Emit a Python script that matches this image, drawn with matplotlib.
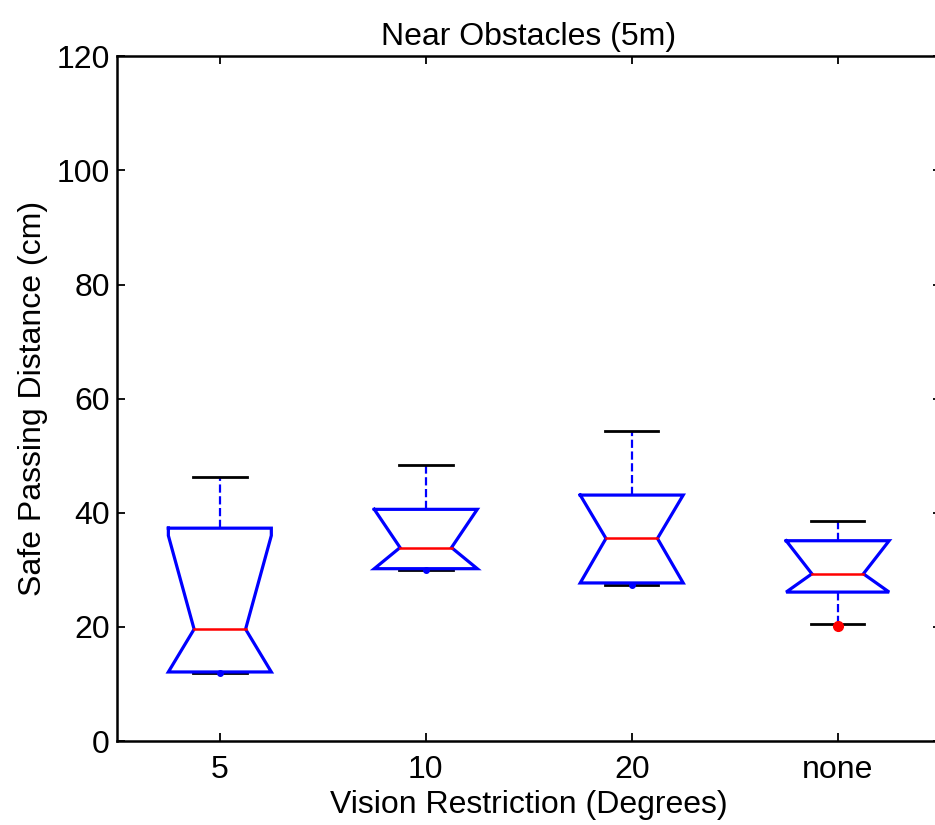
import matplotlib
matplotlib.use('Agg')
import matplotlib.pyplot as plt

plt.rcParams['font.family'] = ['Liberation Sans', 'DejaVu Sans']

# data (cm)
groups = ['5', '10', '20', 'none']
q1 = [12.1, 30.2, 27.7, 26.1]
medians = [19.6, 33.9, 35.5, 29.3]
q3 = [37.3, 40.6, 43.1, 35.1]
whisker_lo = [11.9, 29.9, 27.3, 20.5]
whisker_hi = [46.3, 48.4, 54.3, 38.5]
notch_lo = [3.2, 27.1, 25.5, 23.4]
notch_hi = [36.0, 40.7, 45.5, 35.2]
outliers = [[], [], [], [20.2]]

BOX_HW = 0.25      # half width of a box
NOTCH_HW = 0.125   # half width at the median
CAP_HW = 0.13
FS = 23

fig = plt.figure(figsize=(9.35, 8.25), dpi=100)
ax = fig.add_axes([0.125, 0.1018, 0.881, 0.830])

for i in range(len(groups)):
    x = i + 1
    nl = max(notch_lo[i], q1[i])
    nu = min(notch_hi[i], q3[i])

    # whiskers (dashed) and caps
    ax.plot([x, x], [q3[i], whisker_hi[i]], color='blue', linestyle='--', lw=1.6, zorder=2)
    ax.plot([x, x], [whisker_lo[i], q1[i]], color='blue', linestyle='--', lw=1.6, zorder=2)
    ax.plot([x - CAP_HW, x + CAP_HW], [whisker_hi[i]] * 2, color='black', lw=2.0, zorder=2)
    ax.plot([x - CAP_HW, x + CAP_HW], [whisker_lo[i]] * 2, color='black', lw=2.0, zorder=2)
    if whisker_lo[i] >= q1[i] - 0.5:
        # whisker too short to show its dashes: just a blue dot
        ax.plot([x], [whisker_lo[i]], 'o', color='blue', ms=4, zorder=3)

    # notched box outline
    xs = [x - BOX_HW, x + BOX_HW, x + BOX_HW, x + NOTCH_HW, x + BOX_HW, x + BOX_HW,
          x - BOX_HW, x - BOX_HW, x - NOTCH_HW, x - BOX_HW, x - BOX_HW]
    ys = [q3[i], q3[i], nu, medians[i], nl, q1[i],
          q1[i], nl, medians[i], nu, q3[i]]
    ax.plot(xs, ys, color='blue', lw=2.3, zorder=4, solid_joinstyle='miter')

    # median
    ax.plot([x - NOTCH_HW, x + NOTCH_HW], [medians[i]] * 2, color='red', lw=1.8, zorder=5)

    # outliers
    for v in outliers[i]:
        ax.plot([x], [v], 'o', color='red', ms=7, zorder=6)

ax.set_xlim(0.5, 4.5)
ax.set_ylim(0, 120)
ax.set_xticks(range(1, len(groups) + 1))
ax.set_xticklabels(groups)
ax.set_yticks(range(0, 121, 20))

ax.tick_params(direction='in', length=6, width=1.3, labelsize=FS, colors='black')
ax.tick_params(axis='x', pad=10, top=True)
ax.tick_params(axis='y', pad=5, right=True)
for name in ['left', 'bottom', 'top']:
    ax.spines[name].set_linewidth(1.8)
ax.spines['right'].set_visible(False)

ax.set_title('Near Obstacles (5m)', fontsize=FS, pad=8)
ax.set_xlabel('Vision Restriction (Degrees)', fontsize=FS, labelpad=4)
ax.set_ylabel('Safe Passing Distance (cm)', fontsize=FS, labelpad=6)

fig.savefig('out.png', dpi=100)
